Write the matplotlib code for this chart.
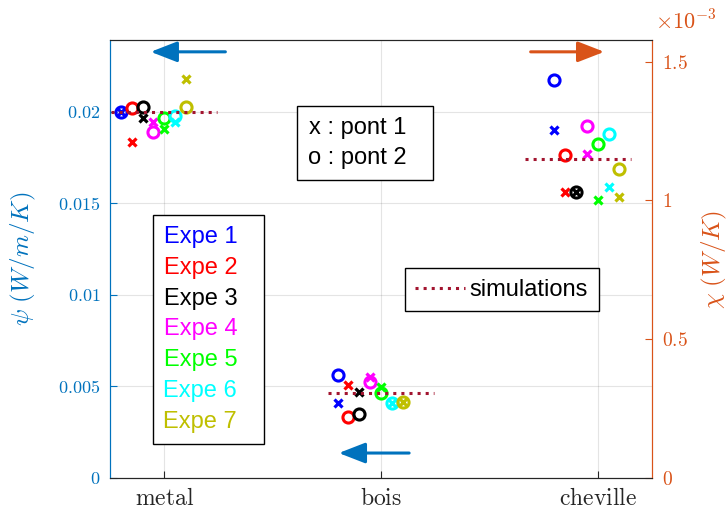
import matplotlib.pyplot as plt
from matplotlib.lines import Line2D
import numpy as np

plt.rcParams['mathtext.fontset'] = 'cm'
plt.rcParams['font.family'] = ['Liberation Sans', 'DejaVu Sans']

# categories on the x axis
categories = ['metal', 'bois', 'cheville']
cat_pos = [1, 2, 3]

# experiments
expe_labels = ['Expe 1', 'Expe 2', 'Expe 3', 'Expe 4', 'Expe 5', 'Expe 6', 'Expe 7']
expe_colors = ['#0000ff', '#ff0000', '#000000', '#ff00ff', '#00ff00', '#00ffff', '#bfbf00']
expe_shift = [-0.2, -0.15, -0.1, -0.05, 0.0, 0.05, 0.1]

# psi (W/m/K), left axis : metal and bois
metal_pont1 = [0.02000, 0.01838, 0.01969, 0.01947, 0.01905, 0.01947, 0.02179]
metal_pont2 = [0.02002, 0.02023, 0.02026, 0.01892, 0.01966, 0.01978, 0.02029]
bois_pont1 = [0.00408, 0.00508, 0.00468, 0.00554, 0.00496, 0.00408, 0.00414]
bois_pont2 = [0.00563, 0.00332, 0.00350, 0.00526, 0.00463, 0.00408, 0.00414]

# chi (W/K), right axis : cheville
cheville_pont1 = [1.255e-3, 1.032e-3, 1.032e-3, 1.168e-3, 1.000e-3, 1.048e-3, 1.014e-3]
cheville_pont2 = [1.434e-3, 1.164e-3, 1.032e-3, 1.267e-3, 1.204e-3, 1.240e-3, 1.114e-3]

# simulations
sim_values = [0.0200, 0.00463, 1.150e-3]
sim_center = [1.0, 2.0, 2.91]
sim_half = 0.245

blue = (0, 0.447, 0.741)
orange = (0.85, 0.325, 0.098)
simcol = (0.635, 0.078, 0.184)

fig = plt.figure(figsize=(7.28, 5.16), dpi=100)
ax = fig.add_axes([110/728, 38/516, 542/728, 438/516])
ax2 = ax.twinx()

def draw(a, xc, p1, p2):
    for i in range(7):
        a.plot(xc + expe_shift[i], p1[i], linestyle='none', marker='x',
               ms=5.5, mew=2.3, color=expe_colors[i])
        a.plot(xc + expe_shift[i], p2[i], linestyle='none', marker='o',
               ms=8, mew=2.2, mfc='none', color=expe_colors[i])

draw(ax, cat_pos[0], metal_pont1, metal_pont2)
draw(ax, cat_pos[1], bois_pont1, bois_pont2)
draw(ax2, cat_pos[2], cheville_pont1, cheville_pont2)

for k in range(2):
    ax.plot([sim_center[k]-sim_half, sim_center[k]+sim_half], [sim_values[k]]*2,
            linestyle=':', lw=2.2, color=simcol)
simline, = ax2.plot([sim_center[2]-sim_half, sim_center[2]+sim_half], [sim_values[2]]*2,
                    linestyle=':', lw=2.2, color=simcol)

ax.set_xlim(0.75, 3.25)
ax.set_ylim(0, 0.02393)
ax2.set_ylim(0, 1.578e-3)

ax.set_xticks(cat_pos)
ax.set_xticklabels([r'$\mathrm{%s}$' % c for c in categories], fontsize=17, color='0.15')
yt = [0, 0.005, 0.01, 0.015, 0.02]
ax.set_yticks(yt)
ax.set_yticklabels([r'$%g$' % v for v in yt], fontsize=13, color=blue)
yt2 = [0, 0.5e-3, 1e-3, 1.5e-3]
ax2.set_yticks(yt2)
ax2.set_yticklabels([r'$%g$' % (v*1e3) for v in yt2], fontsize=14, color=orange)

ax.tick_params(direction='in', length=5, width=0.8)
ax.tick_params(axis='y', colors=blue, pad=7)
ax.tick_params(axis='x', colors='0.15', pad=7)
ax2.tick_params(direction='in', length=5, width=0.8, colors=orange, pad=7)

ax.grid(True, color=(0.15, 0.15, 0.15), alpha=0.12, lw=0.8)
ax.set_axisbelow(True)

ax.set_ylabel(r'$\psi\ (W/m/K)$', color=blue, fontsize=18)
ax.yaxis.set_label_coords(-0.133, 0.5)
ax2.set_ylabel(r'$\chi\ (W/K)$', color=orange, fontsize=18)
ax2.yaxis.set_label_coords(1.089, 0.5)
ax2.text(1.005, 1.012, r'$\times10^{-3}$', transform=ax2.transAxes,
         color=orange, fontsize=16, ha='left', va='bottom')

for a in (ax, ax2):
    a.spines['left'].set_color(blue)
    a.spines['right'].set_color(orange)
    a.spines['top'].set_color('0.15')
    a.spines['bottom'].set_color('0.15')
    for s in a.spines.values():
        s.set_linewidth(0.8)

# arrows showing which axis
arr = dict(arrowstyle='-|>,head_length=0.9,head_width=0.35', lw=2.2, mutation_scale=18)
ax2.annotate('', xy=(0.070, 0.973), xytext=(0.218, 0.973), xycoords='axes fraction',
             arrowprops=dict(color=blue, **arr))
ax2.annotate('', xy=(0.917, 0.973), xytext=(0.771, 0.973), xycoords='axes fraction',
             arrowprops=dict(color=orange, **arr))
ax2.annotate('', xy=(0.417, 0.057), xytext=(0.557, 0.057), xycoords='axes fraction',
             arrowprops=dict(color=blue, **arr))

# legends (text first, invisible handle on the right for the extra room)
blank = [Line2D([], [], linestyle='none') for _ in expe_labels]
leg1 = ax2.legend(blank, expe_labels, loc='upper left', bbox_to_anchor=(0.079, 0.600),
                  handlelength=0.55, handletextpad=0.15, markerfirst=False,
                  labelcolor=expe_colors, fontsize=17,
                  fancybox=False, edgecolor='k', framealpha=1, borderaxespad=0,
                  labelspacing=0.375, borderpad=0.45)
leg1.get_frame().set_linewidth(1)
ax2.add_artist(leg1)

blank2 = [Line2D([], [], linestyle='none') for _ in range(2)]
leg2 = ax2.legend(blank2, ['x : pont 1', 'o : pont 2'], loc='upper left',
                  bbox_to_anchor=(0.345, 0.849), handlelength=0.5, handletextpad=0.2,
                  markerfirst=False,
                  fontsize=17, fancybox=False, edgecolor='k', framealpha=1,
                  borderaxespad=0, labelspacing=0.35, borderpad=0.45)
leg2.get_frame().set_linewidth(1)
ax2.add_artist(leg2)

leg3 = ax2.legend([simline], ['simulations'], loc='upper left', bbox_to_anchor=(0.544, 0.479),
                  handlelength=2.1, handletextpad=0.2, fontsize=17, fancybox=False,
                  edgecolor='k', framealpha=1, borderaxespad=0, borderpad=0.45)
leg3.get_frame().set_linewidth(1)

plt.savefig('out.png', dpi=100)
